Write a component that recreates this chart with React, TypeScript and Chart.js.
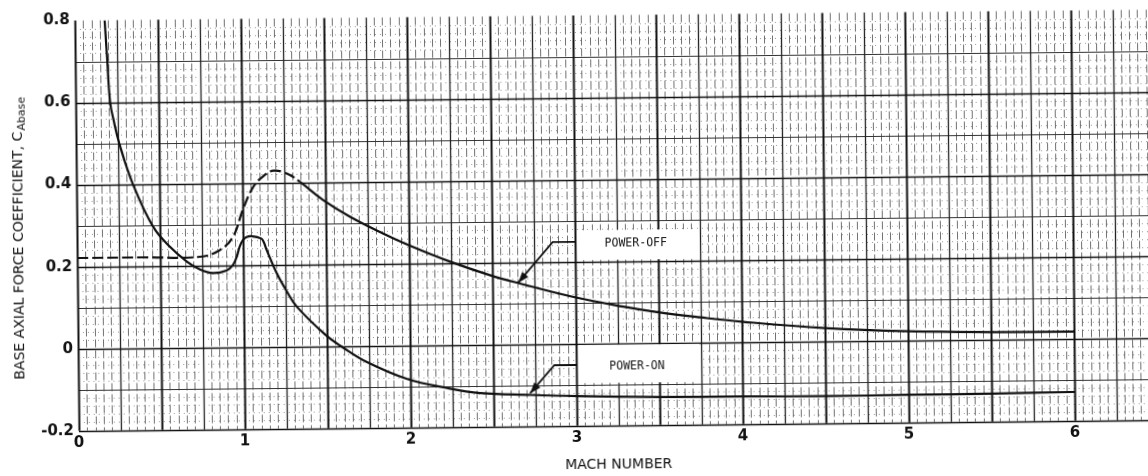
import React, { useEffect, useRef } from "react";
import { Chart, registerables } from "chart.js";

Chart.register(...registerables);

// Base axial force coefficient vs Mach number
const powerOffMach = [0, 0.4, 0.74, 0.86, 0.94, 1.0, 1.065, 1.126, 1.187, 1.267, 1.347, 1.486, 1.646, 1.846, 2.005, 2.246, 2.486, 2.666, 2.976, 3.287, 3.488, 3.75, 4.01, 4.5, 5.0, 5.5, 6.0];
const powerOffCoef = [0.221, 0.221, 0.221, 0.237, 0.269, 0.334, 0.39, 0.416, 0.429, 0.422, 0.401, 0.356, 0.315, 0.273, 0.243, 0.203, 0.169, 0.148, 0.115, 0.089, 0.075, 0.061, 0.049, 0.032, 0.022, 0.018, 0.017];

const powerOnMach = [0.18, 0.193, 0.208, 0.228, 0.26, 0.34, 0.46, 0.56, 0.66, 0.74, 0.817, 0.899, 0.938, 0.961, 0.98, 1.0, 1.022, 1.05, 1.11, 1.125, 1.142, 1.2, 1.26, 1.32, 1.49, 1.59, 1.74, 1.98, 2.22, 2.42, 2.72, 3.0, 3.5, 4.0, 4.5, 5.0, 5.5, 6.0];
const powerOnCoef = [0.8, 0.703, 0.6, 0.556, 0.5, 0.4, 0.295, 0.246, 0.21, 0.19, 0.181, 0.187, 0.2, 0.22, 0.245, 0.261, 0.268, 0.27, 0.264, 0.255, 0.236, 0.18, 0.135, 0.097, 0.028, -0.002, -0.04, -0.082, -0.105, -0.118, -0.124, -0.128, -0.132, -0.133, -0.134, -0.133, -0.132, -0.13];

const machTicks = [0, 1, 2, 3, 4, 5, 6];
const coefTicks = [-0.2, 0, 0.2, 0.4, 0.6, 0.8];

const MACH_MIN = 0;
const MACH_MAX = 6.5;
const COEF_MIN = -0.2;
const COEF_MAX = 0.8;

// graph-paper rulings
const MACH_STEP = 0.05;
const COEF_STEP = 0.02;

// curve labels with leader arrows
const callouts = [
  {
    text: "POWER-OFF",
    box: { x0: 3.0, x1: 3.75, y0: 0.2, y1: 0.28 },
    at: { x: 3.366, y: 0.243 },
    leader: [
      { x: 3.0, y: 0.248 },
      { x: 2.865, y: 0.248 },
      { x: 2.655, y: 0.15 },
    ],
  },
  {
    text: "POWER-ON",
    box: { x0: 3.0, x1: 3.75, y0: -0.1, y1: 0.0 },
    at: { x: 3.366, y: -0.056 },
    leader: [
      { x: 3.0, y: -0.052 },
      { x: 2.868, y: -0.052 },
      { x: 2.72, y: -0.12 },
    ],
  },
];

const W = 1156;
const H = 486;
const INK = "#111";
const FONT = '"DejaVu Sans", "Liberation Sans", sans-serif';

const whiteBackground = {
  id: "whiteBackground",
  beforeDraw(chart: any) {
    const { ctx } = chart;
    ctx.save();
    ctx.fillStyle = "#fff";
    ctx.fillRect(0, 0, chart.width, chart.height);
    ctx.restore();
  },
};

const paperGrid = {
  id: "paperGrid",
  beforeDatasetsDraw(chart: any) {
    const { ctx, chartArea: a, scales } = chart;
    const xs = scales.x;
    const ys = scales.y;
    ctx.save();
    ctx.lineCap = "butt";

    const nx = Math.round((MACH_MAX - MACH_MIN) / MACH_STEP);
    const ny = Math.round((COEF_MAX - COEF_MIN) / COEF_STEP);

    const hLine = (v: number, width: number, color: string, dash: number[]) => {
      const py = Math.round(ys.getPixelForValue(v)) + 0.5;
      ctx.beginPath();
      ctx.lineWidth = width;
      ctx.strokeStyle = color;
      ctx.setLineDash(dash);
      ctx.moveTo(a.left, py);
      ctx.lineTo(a.right, py);
      ctx.stroke();
    };
    const vLine = (v: number, width: number, color: string, dash: number[]) => {
      const px = Math.round(xs.getPixelForValue(v)) + 0.5;
      ctx.beginPath();
      ctx.lineWidth = width;
      ctx.strokeStyle = color;
      ctx.setLineDash(dash);
      ctx.moveTo(px, a.top);
      ctx.lineTo(px, a.bottom);
      ctx.stroke();
    };

    // fine dotted rows
    for (let j = 0; j < ny; j++) {
      if (j % 5 === 0) continue;
      hLine(COEF_MIN + j * COEF_STEP, 1, "#9a9a9a", [1, 4]);
    }
    // fine dashed columns
    for (let i = 0; i <= nx; i++) {
      if (i % 5 === 0) continue;
      vLine(MACH_MIN + i * MACH_STEP, 1, "#707070", [8, 3]);
    }
    // 0.1 rows
    for (let j = 5; j < ny; j += 10) {
      hLine(COEF_MIN + j * COEF_STEP, 1, "#333", []);
    }
    // 0.25 columns
    for (let i = 0; i <= nx; i += 5) {
      if (i % 10 === 0) continue;
      vLine(MACH_MIN + i * MACH_STEP, 1.3, "#222", []);
    }
    // 0.5 columns
    for (let i = 0; i <= nx; i += 10) {
      vLine(MACH_MIN + i * MACH_STEP, 2, INK, []);
    }
    // 0.2 rows
    for (let j = 0; j < ny; j += 10) {
      hLine(COEF_MIN + j * COEF_STEP, 1.6, INK, []);
    }

    // label boxes, text and leaders
    for (const c of callouts) {
      const bx0 = xs.getPixelForValue(c.box.x0) + 2;
      const bx1 = xs.getPixelForValue(c.box.x1) - 1.5;
      const by0 = ys.getPixelForValue(c.box.y1) + 1.5;
      const by1 = ys.getPixelForValue(c.box.y0) - 1.5;
      ctx.setLineDash([]);
      ctx.fillStyle = "#fff";
      ctx.fillRect(bx0, by0, bx1 - bx0, by1 - by0);

      ctx.fillStyle = INK;
      ctx.font = '11.5px "DejaVu Sans Mono", "Liberation Mono", monospace';
      ctx.textAlign = "center";
      ctx.textBaseline = "middle";
      ctx.fillText(c.text, xs.getPixelForValue(c.at.x), ys.getPixelForValue(c.at.y));

      const pts = c.leader.map((p) => ({ x: xs.getPixelForValue(p.x), y: ys.getPixelForValue(p.y) }));
      ctx.beginPath();
      ctx.lineWidth = 1.8;
      ctx.strokeStyle = INK;
      ctx.moveTo(pts[0].x, pts[0].y);
      for (let k = 1; k < pts.length; k++) ctx.lineTo(pts[k].x, pts[k].y);
      ctx.stroke();

      const tip = pts[pts.length - 1];
      const from = pts[pts.length - 2];
      const ang = Math.atan2(tip.y - from.y, tip.x - from.x);
      const len = 11;
      const half = 4;
      const bxp = tip.x - len * Math.cos(ang);
      const byp = tip.y - len * Math.sin(ang);
      ctx.beginPath();
      ctx.moveTo(tip.x, tip.y);
      ctx.lineTo(bxp + half * Math.sin(ang), byp - half * Math.cos(ang));
      ctx.lineTo(bxp - half * Math.sin(ang), byp + half * Math.cos(ang));
      ctx.closePath();
      ctx.fill();
    }
    ctx.restore();
  },
};

const coefTitle = {
  id: "coefTitle",
  afterDraw(chart: any) {
    const { ctx } = chart;
    ctx.save();
    ctx.translate(19, 374);
    ctx.rotate(-Math.PI / 2);
    ctx.fillStyle = INK;
    ctx.textAlign = "left";
    ctx.textBaseline = "middle";
    ctx.font = `14px ${FONT}`;
    const main = "BASE AXIAL FORCE COEFFICIENT, C";
    ctx.fillText(main, 0, 0);
    const w = ctx.measureText(main).width;
    ctx.font = `11px ${FONT}`;
    ctx.fillText("Abase", w + 1, 4);
    ctx.restore();
  },
};

const fmtCoef = (v: number) => {
  const r = Math.round(v * 10) / 10;
  return r === 0 ? "0" : r.toFixed(1);
};

export default function App() {
  const canvasRef = useRef<HTMLCanvasElement | null>(null);

  useEffect(() => {
    const canvas = canvasRef.current;
    if (!canvas) return;

    const chart = new Chart(canvas, {
      type: "line",
      data: {
        datasets: [
          {
            label: "POWER-OFF",
            data: powerOffMach.map((m, i) => ({ x: m, y: powerOffCoef[i] })),
            borderColor: INK,
            borderWidth: 2.2,
            pointRadius: 0,
            fill: false,
            tension: 0.4,
            segment: {
              borderDash: (c: any) => (c.p0.parsed.x < 1.27 ? [11, 4] : undefined),
            },
          },
          {
            label: "POWER-ON",
            data: powerOnMach.map((m, i) => ({ x: m, y: powerOnCoef[i] })),
            borderColor: INK,
            borderWidth: 2.2,
            pointRadius: 0,
            fill: false,
            tension: 0.4,
          },
        ],
      },
      options: {
        animation: false,
        responsive: false,
        devicePixelRatio: 1,
        layout: { padding: { left: 0, right: 0, top: 15.5, bottom: 0 } },
        plugins: {
          legend: { display: false },
          tooltip: { enabled: false },
        },
        scales: {
          x: {
            type: "linear",
            min: MACH_MIN,
            max: MACH_MAX,
            afterBuildTicks: (ax: any) => {
              ax.ticks = machTicks.map((v) => ({ value: v }));
            },
            afterFit: (ax: any) => {
              ax.height = 60.3;
            },
            grid: { display: false, drawTicks: false },
            border: { display: false },
            ticks: {
              autoSkip: false,
              maxRotation: 0,
              padding: 3.5,
              color: INK,
              font: { family: FONT, size: 15, weight: "bold" },
              callback: (v: any) => String(v),
            },
            title: {
              display: true,
              text: "MACH NUMBER",
              color: INK,
              font: { family: FONT, size: 14 },
              padding: { top: 0, bottom: 12.5 },
            },
          },
          y: {
            type: "linear",
            min: COEF_MIN,
            max: COEF_MAX,
            afterBuildTicks: (ax: any) => {
              ax.ticks = coefTicks.map((v) => ({ value: v }));
            },
            afterFit: (ax: any) => {
              ax.width = 77;
            },
            grid: { display: false, drawTicks: false },
            border: { display: false },
            ticks: {
              autoSkip: false,
              padding: 5,
              color: INK,
              font: { family: FONT, size: 15, weight: "bold" },
              callback: (v: any) => fmtCoef(Number(v)),
            },
          },
        },
      },
      plugins: [whiteBackground, paperGrid, coefTitle],
    });

    return () => chart.destroy();
  }, []);

  return (
    <div
      style={{
        position: "fixed",
        left: 0,
        top: 0,
        width: W,
        height: H,
        transform: "rotate(-0.58deg)",
        transformOrigin: "574px 238px",
      }}
    >
      <canvas ref={canvasRef} width={W} height={H} style={{ display: "block", width: W, height: H }} />
    </div>
  );
}
